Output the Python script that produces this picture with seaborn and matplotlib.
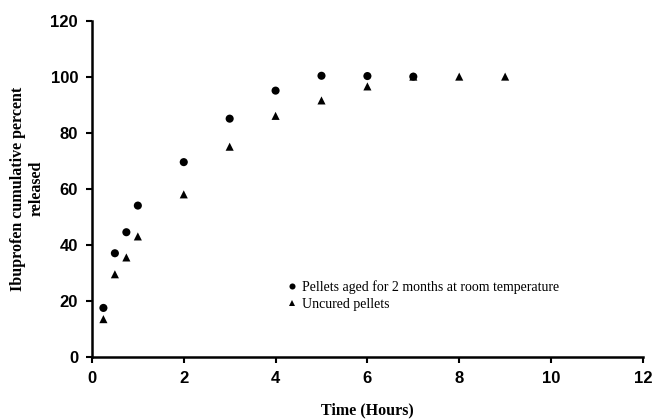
import matplotlib
matplotlib.use("Agg")
import matplotlib.pyplot as plt
import pandas as pd
import seaborn as sns

time_aged = [0.25, 0.5, 0.75, 1, 2, 3, 4, 5, 6, 7]
release_aged = [17.5, 37.0, 44.5, 54.0, 69.5, 85.0, 95.0, 100.3, 100.2, 100.0]
time_uncured = [0.25, 0.5, 0.75, 1, 2, 3, 4, 5, 6, 7, 8, 9]
release_uncured = [13.5, 29.5, 35.5, 43.0, 58.0, 75.0, 86.0, 91.5, 96.5, 100.0, 100.0, 100.0]
labels = ["Pellets aged for 2 months at room temperature", "Uncured pellets"]

df = pd.concat([
    pd.DataFrame({"Time": time_aged, "Release": release_aged, "Group": labels[0]}),
    pd.DataFrame({"Time": time_uncured, "Release": release_uncured, "Group": labels[1]}),
])

sns.set_theme(style="ticks")
fig = plt.figure(figsize=(6.52, 4.19), dpi=100)
ax = fig.add_axes([0.141, 0.148, 0.845, 0.803])

sns.scatterplot(data=df, x="Time", y="Release", style="Group",
                markers={labels[0]: "o", labels[1]: "^"},
                color="black", s=34, edgecolor="black", linewidth=0, ax=ax)

ax.set_xlim(0, 12)
ax.set_ylim(0, 120)
ax.set_xticks(range(0, 13, 2))
ax.set_yticks(range(0, 121, 20))
for lbl in ax.get_xticklabels() + ax.get_yticklabels():
    lbl.set_family("Liberation Sans")
    lbl.set_fontweight("bold")
    lbl.set_fontsize(12)
    lbl.set_color("black")
ax.tick_params(axis="both", width=1.5, length=4, color="black", pad=6)
sns.despine(ax=ax)
for side in ["left", "bottom"]:
    ax.spines[side].set_linewidth(1.8)
    ax.spines[side].set_color("black")

ax.set_xlabel("Time (Hours)", family="Liberation Serif", fontweight="bold",
              fontsize=11.5, labelpad=12, color="black")
ax.set_ylabel("Ibuprofen cumulative percent\nreleased", family="Liberation Serif",
              fontweight="bold", fontsize=11.5, labelpad=4, color="black")

leg = ax.legend(loc="lower left", bbox_to_anchor=(0.33, 0.10), frameon=False,
                prop={"family": "Liberation Serif", "size": 10},
                handlelength=0.8, handletextpad=0.3, labelspacing=0.3,
                markerscale=0.75)
for t in leg.get_texts():
    t.set_color("black")

fig.savefig("out.png", dpi=100)
